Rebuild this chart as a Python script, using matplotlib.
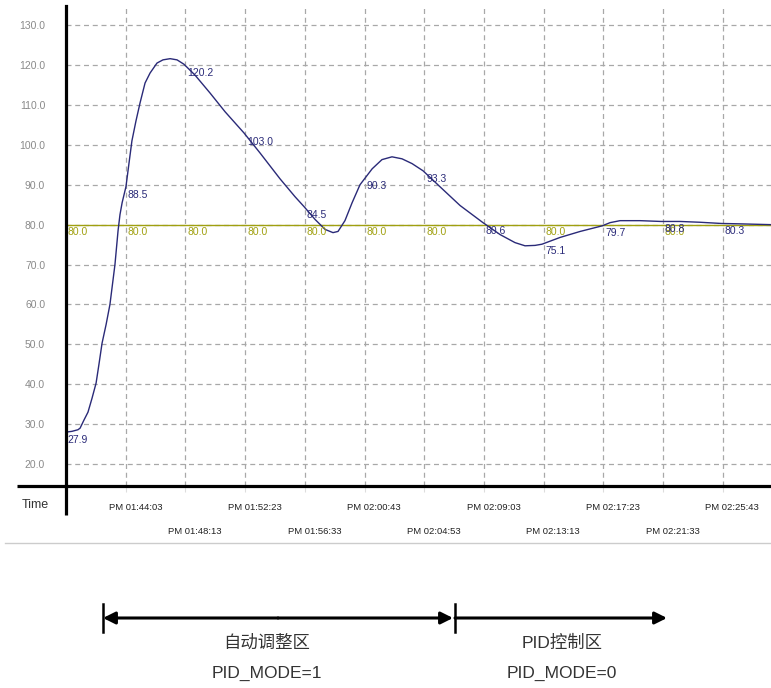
import matplotlib
matplotlib.use("Agg")
import matplotlib.pyplot as plt
import matplotlib.transforms as mtransforms
import numpy as np

plt.rcParams['font.family'] = ['Liberation Sans', 'Noto Sans CJK SC', 'DejaVu Sans']

# time in seconds from PM 01:39:53, one grid step = 250 s
curve_t = [0, 25, 50, 59, 75, 92, 109, 126, 138, 151, 168, 184, 205, 218, 226, 235,
           251, 264, 276, 293, 310, 331, 352, 381, 406, 436, 465, 494, 540, 603, 666,
           745, 812, 896, 959, 997, 1043, 1085, 1118, 1139, 1168, 1198, 1231, 1282,
           1323, 1365, 1407, 1449, 1495, 1566, 1650, 1746, 1818, 1880, 1922, 1964,
           1993, 2069, 2153, 2245, 2278, 2320, 2404, 2492, 2571, 2655, 2743, 2823, 2952]
curve_v = [28.0, 28.2, 28.6, 29.0, 31.0, 33.0, 36.5, 40.3, 45.0, 50.3, 55.0, 60.0,
           70.0, 78.5, 82.5, 85.5, 89.5, 95.5, 101.0, 106.0, 110.5, 115.5, 118.0,
           120.5, 121.3, 121.6, 121.3, 120.2, 117.5, 113.0, 108.3, 103.0, 98.0, 91.5,
           87.0, 84.5, 81.3, 78.8, 78.0, 78.3, 81.0, 85.5, 90.0, 94.0, 96.3, 97.0,
           96.5, 95.3, 93.5, 89.5, 84.8, 80.5, 77.5, 75.5, 74.7, 74.8, 75.1, 76.8,
           78.3, 79.7, 80.5, 81.0, 81.0, 80.8, 80.8, 80.6, 80.3, 80.2, 80.0]

setpoint = 80.0
grid_idx = list(range(12))
pv_labels = [27.9, 88.5, 120.2, 103.0, 84.5, 90.3, 93.3, 80.6, 75.1, 79.7, 80.8, 80.3]
sp_label_idx = [0, 1, 2, 3, 4, 5, 6, 8, 10]
time_labels = ["PM 01:44:03", "PM 01:48:13", "PM 01:52:23", "PM 01:56:33",
               "PM 02:00:43", "PM 02:04:53", "PM 02:09:03", "PM 02:13:13",
               "PM 02:17:23", "PM 02:21:33", "PM 02:25:43"]
y_ticks = [20, 30, 40, 50, 60, 70, 80, 90, 100, 110, 120, 130]

fig = plt.figure(figsize=(7.71, 6.88), dpi=100)
ax = fig.add_axes([66 / 771, 1 - 486 / 688, 705 / 771, 480 / 688])
ax.set_xlim(0, 2952)
ax.set_ylim(14.5, 134.8)

for s in ['top', 'right']:
    ax.spines[s].set_visible(False)
ax.spines['left'].set_linewidth(2.3)
ax.spines['bottom'].set_linewidth(2.3)

ax.set_yticks(y_ticks)
ax.set_yticklabels([f"{v:.1f}" for v in y_ticks], color='#8a8a8a', fontsize=7.5)
ax.tick_params(axis='y', length=0, pad=15)
ax.set_xticks([250 * k for k in range(1, 12)])
ax.set_xticklabels([])
ax.tick_params(axis='x', length=4, color='#dddddd', direction='out')
ax.grid(True, linestyle=(0, (4, 3)), color='#a8a8a8', linewidth=0.9)

# extensions of axes lines
ax.plot([0, 0], [0, -0.06], transform=ax.transAxes, color='black', lw=2.3,
        clip_on=False, solid_capstyle='butt')
ax.plot([-49 / 705, 0], [0, 0], transform=ax.transAxes, color='black', lw=2.3,
        clip_on=False, solid_capstyle='butt')

ax.axhline(setpoint, color='#a0a010', lw=1.0)
ax.plot(curve_t, curve_v, color='#2a2a78', lw=1.0)

for i in sp_label_idx:
    ax.text(250 * i + 8, setpoint - 0.6, f"{setpoint:.1f}", color='#a0a010',
            fontsize=7.5, ha='left', va='top')
for i, v in zip(grid_idx, pv_labels):
    x = 250 * i + 8
    y = np.interp(250 * i, curve_t, curve_v)
    ax.text(x, y - 0.6, f"{v:.1f}", color='#2a2a78', fontsize=7.5, ha='left', va='top')

trans = mtransforms.blended_transform_factory(ax.transData, fig.transFigure)
for k, lab in enumerate(time_labels, start=1):
    yy = 1 - 508 / 688 if k % 2 == 1 else 1 - 531 / 688
    ax.text(250 * k + 40, yy, lab, transform=trans, fontsize=6.8, ha='center',
            va='center', color='#222222')

fig.text(35 / 771, 1 - 505 / 688, "Time", fontsize=9, ha='center', va='center',
         color='#333333')
fig.add_artist(plt.Line2D([5 / 771, 1], [1 - 543 / 688] * 2, color='#cccccc', lw=1.0,
                          transform=fig.transFigure))

# mode arrows
arrow_kw = dict(arrowstyle='-|>', mutation_scale=18, lw=2.2, color='black',
                shrinkA=0, shrinkB=0)
ay = 70
ax.annotate('', xy=(103, ay), xytext=(278, ay), xycoords='figure pixels',
            textcoords='figure pixels', arrowprops=arrow_kw)
ax.annotate('', xy=(453, ay), xytext=(278, ay), xycoords='figure pixels',
            textcoords='figure pixels', arrowprops=arrow_kw)
ax.annotate('', xy=(667, ay), xytext=(455, ay), xycoords='figure pixels',
            textcoords='figure pixels', arrowprops=arrow_kw)
for xb in [103, 455]:
    fig.add_artist(plt.Line2D([xb / 771] * 2, [56 / 688, 84 / 688], color='black',
                              lw=1.8, transform=fig.transFigure))

fig.text(267 / 771, 45 / 688, "自动调整区", fontsize=12.5, ha='center', va='center',
         color='#333333')
fig.text(267 / 771, 15 / 688, "PID_MODE=1", fontsize=12.5, ha='center', va='center',
         color='#333333')
fig.text(562 / 771, 45 / 688, "PID控制区", fontsize=12.5, ha='center', va='center',
         color='#333333')
fig.text(562 / 771, 15 / 688, "PID_MODE=0", fontsize=12.5, ha='center', va='center',
         color='#333333')

fig.savefig("out.png", dpi=100)
